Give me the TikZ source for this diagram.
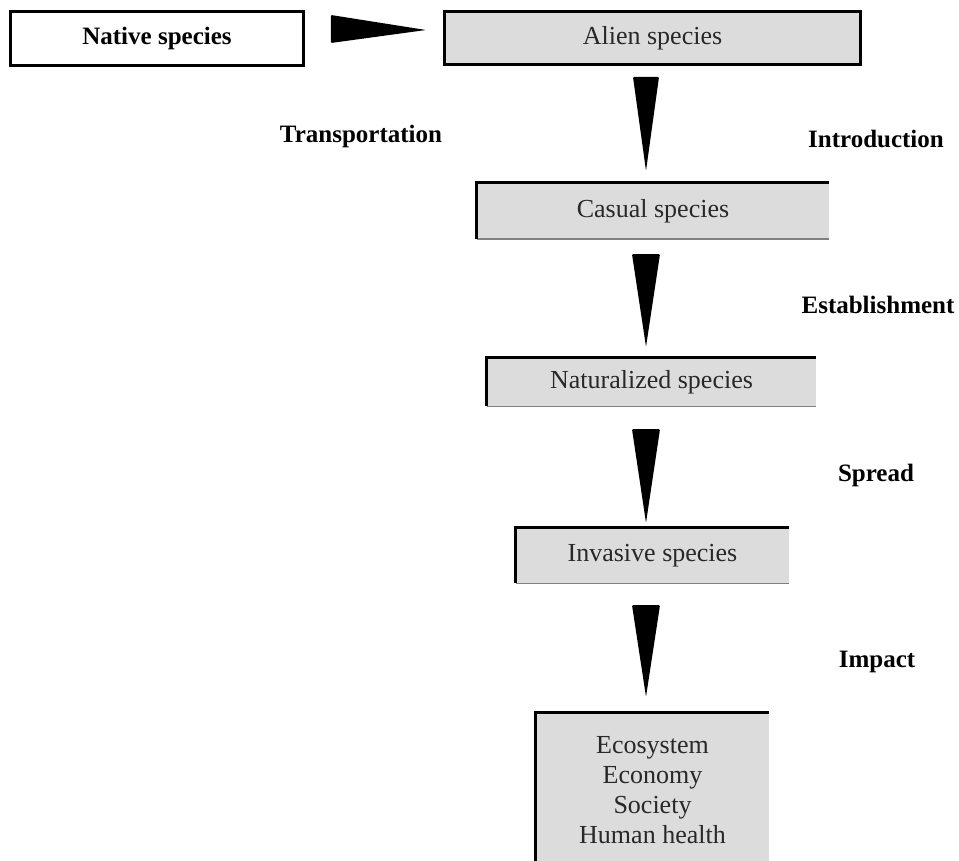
\documentclass[tikz,border=0pt]{standalone}
\usepackage{fontspec}
\setmainfont{Liberation Serif}
\usetikzlibrary{calc}
\definecolor{boxgray}{HTML}{DCDCDC}
\definecolor{inkgray}{HTML}{282828}
\begin{document}
\begin{tikzpicture}[x=1pt,y=-1pt,
  stage/.style={fill=boxgray, inner sep=0pt, text=inkgray,
    font=\fontsize{26}{30}\selectfont, align=center},
  edgetop/.style={draw=black, line width=3.2pt},
  edgelow/.style={draw=black!50, line width=1.4pt},
  steplabel/.style={font=\bfseries\fontsize{25}{30}\selectfont, inner sep=0pt},
  wedge/.style={fill=black, rounded corners=1pt}]

\useasboundingbox (0,0) rectangle (959,861);
\clip (0,0) rectangle (959,861);

% boxes
\node[draw=black, line width=2.8pt, fill=white, inner sep=0pt,
      minimum width=293, minimum height=54,
      font=\bfseries\fontsize{25}{30}\selectfont] (native) at (157,38.5) {Native species};
\node[stage, draw=black, line width=3pt, minimum width=416, minimum height=53] (alien) at (652.5,38) {Alien species};
\node[stage, minimum width=352, minimum height=56] (casual) at (653,211) {Casual species};
\node[stage, minimum width=329, minimum height=48] (natural) at (651.5,382) {Naturalized species};
\node[stage, minimum width=273, minimum height=55] (invasive) at (652.5,555.5) {Invasive species};
\node[stage, minimum width=233, minimum height=154] (impacts) at (652.5,790)
  {Ecosystem\\Economy\\Society\\Human health};

% raised top and left edges, faint bottom edge
\foreach \n in {casual,natural,invasive,impacts}{
  \draw[edgelow] (\n.south west) -- (\n.south east);
  \draw[edgetop] (\n.south west) -- (\n.north west) -- (\n.north east);
}

% step labels
\node[steplabel] (ltrans) at (361,136) {Transportation};
\node[steplabel] (lintro) at (876,139) {Introduction};
\node[steplabel] (lestab) at (878,305) {Establishment};
\node[steplabel] (lspread) at (876,475) {Spread};
\node[steplabel] (limpact) at (877,662) {Impact};

% wedge arrows
\coordinate (ax) at (646,0);
\fill[wedge] ($(native.east)+(26,-23.5)$) -- ++(0,28) -- ($(alien.west)+(-17,-8)$) -- cycle;
\fill[wedge] ($(alien.south -| ax)+(-13,11)$) -- ++(26,0) -- ($(casual.north -| ax)+(0,-12)$) -- cycle;
\fill[wedge] ($(casual.south -| ax)+(-14,15)$) -- ++(28,0) -- ($(natural.north -| ax)+(0,-11)$) -- cycle;
\fill[wedge] ($(natural.south -| ax)+(-14,23)$) -- ++(28,0) -- ($(invasive.north -| ax)+(0,-5)$) -- cycle;
\fill[wedge] ($(invasive.south -| ax)+(-14,22)$) -- ++(28,0) -- ($(impacts.north -| ax)+(0,-16)$) -- cycle;
\end{tikzpicture}
\end{document}
